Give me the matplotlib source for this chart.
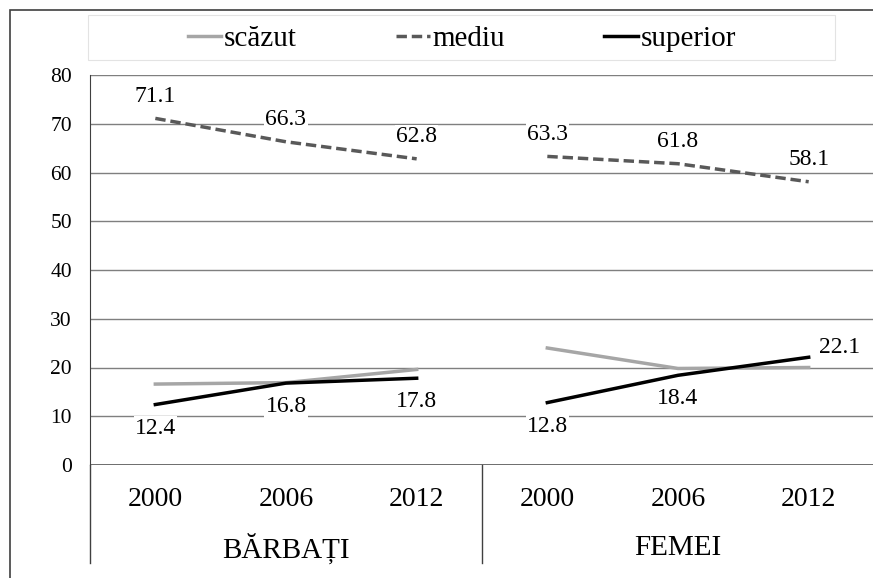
''' Educational level by gender, 2000-2012, line chart with grouped category axis '''

import matplotlib.pyplot as plt
from matplotlib.patches import Rectangle
from matplotlib.transforms import blended_transform_factory

years = ['2000', '2006', '2012']
groups = ['BĂRBAȚI', 'FEMEI']

scazut_b = [16.6, 16.9, 19.6]
scazut_f = [24.0, 19.8, 20.0]
mediu_b = [71.1, 66.3, 62.8]
mediu_f = [63.3, 61.8, 58.1]
superior_b = [12.4, 16.8, 17.8]
superior_f = [12.8, 18.4, 22.1]

plt.rcParams['font.family'] = ['Liberation Serif', 'DejaVu Serif']

W, H = 873, 578
fig = plt.figure(figsize=(W / 100, H / 100), dpi=100)
ax = fig.add_axes([90 / W, 1 - 465 / H, 784 / W, 390 / H])

xb = [0, 1, 2]
xf = [3, 4, 5]
c_low, c_mid, c_high = '#a6a6a6', '#595959', '#000000'
lw = 2.5

l1, = ax.plot(xb, scazut_b, color=c_low, lw=lw, label='scăzut', zorder=3)
ax.plot(xf, scazut_f, color=c_low, lw=lw, zorder=3)
l2, = ax.plot(xb, mediu_b, color=c_mid, lw=lw, ls=(0, (3, 1.4)), label='mediu', zorder=3)
ax.plot(xf, mediu_f, color=c_mid, lw=lw, ls=(0, (3, 1.4)), zorder=3)
l3, = ax.plot(xb, superior_b, color=c_high, lw=lw, label='superior', zorder=4)
ax.plot(xf, superior_f, color=c_high, lw=lw, zorder=4)

lab = dict(fontsize=17, ha='center', va='center', zorder=5,
           bbox=dict(boxstyle='square,pad=0.05', fc='white', ec='none'))
for xs, vals in [(xb, mediu_b), (xf, mediu_f)]:
    for x, v in zip(xs, vals):
        ax.annotate(f'{v:.1f}', (x, v), xytext=(0, 16), textcoords='offset points', **lab)
for x, v in zip(xb, superior_b):
    ax.annotate(f'{v:.1f}', (x, v), xytext=(0, -17), textcoords='offset points', **lab)
for x, v in zip(xf[:2], superior_f[:2]):
    ax.annotate(f'{v:.1f}', (x, v), xytext=(0, -17), textcoords='offset points', **lab)
ax.annotate(f'{superior_f[2]:.1f}', (xf[2], superior_f[2]), xytext=(22, 7),
            textcoords='offset points', **lab)

ax.set_xlim(-0.5, 5.5)
ax.set_ylim(0, 80)
ax.set_yticks(range(0, 81, 10))
ax.tick_params(axis='y', length=0, pad=13, labelsize=15.5)
ax.set_xticks([])
ax.grid(axis='y', color='#7f7f7f', lw=1.0, zorder=1)
for s in ['top', 'right', 'bottom']:
    ax.spines[s].set_visible(False)
ax.spines['left'].set_color('#404040')
ax.axhline(0, color='#595959', lw=1.2, zorder=2)

tr = blended_transform_factory(ax.transData, ax.transAxes)
for x, yr in zip(xb + xf, years * 2):
    ax.text(x, -0.088, yr, transform=tr, ha='center', va='center', fontsize=20)
for i, g in enumerate(groups):
    ax.text(1 + 3 * i, -0.213, g, transform=tr, ha='center', va='center', fontsize=21)
for x in [-0.5, 2.5, 5.5]:
    ax.plot([x, x], [0, -0.251], transform=tr, color='#404040', lw=1.0, clip_on=False)

fig.patches.append(Rectangle((88 / W, 1 - 60 / H), 747 / W, 45 / H, transform=fig.transFigure,
                             fill=False, ec='#e3e3e3', lw=0.8))
fig.patches.append(Rectangle((10 / W, -0.1), 1.2, 1 - 10 / H + 0.1, transform=fig.transFigure,
                             fill=False, ec='#404040', lw=1.2))

fig.legend(handles=[l1, l2, l3], loc='center', bbox_to_anchor=(462 / W, 1 - 39 / H),
           ncol=3, frameon=False, fontsize=21, handlelength=1.15, handletextpad=0.1,
           columnspacing=3.4, borderpad=0)

fig.savefig('out.png', dpi=100)
